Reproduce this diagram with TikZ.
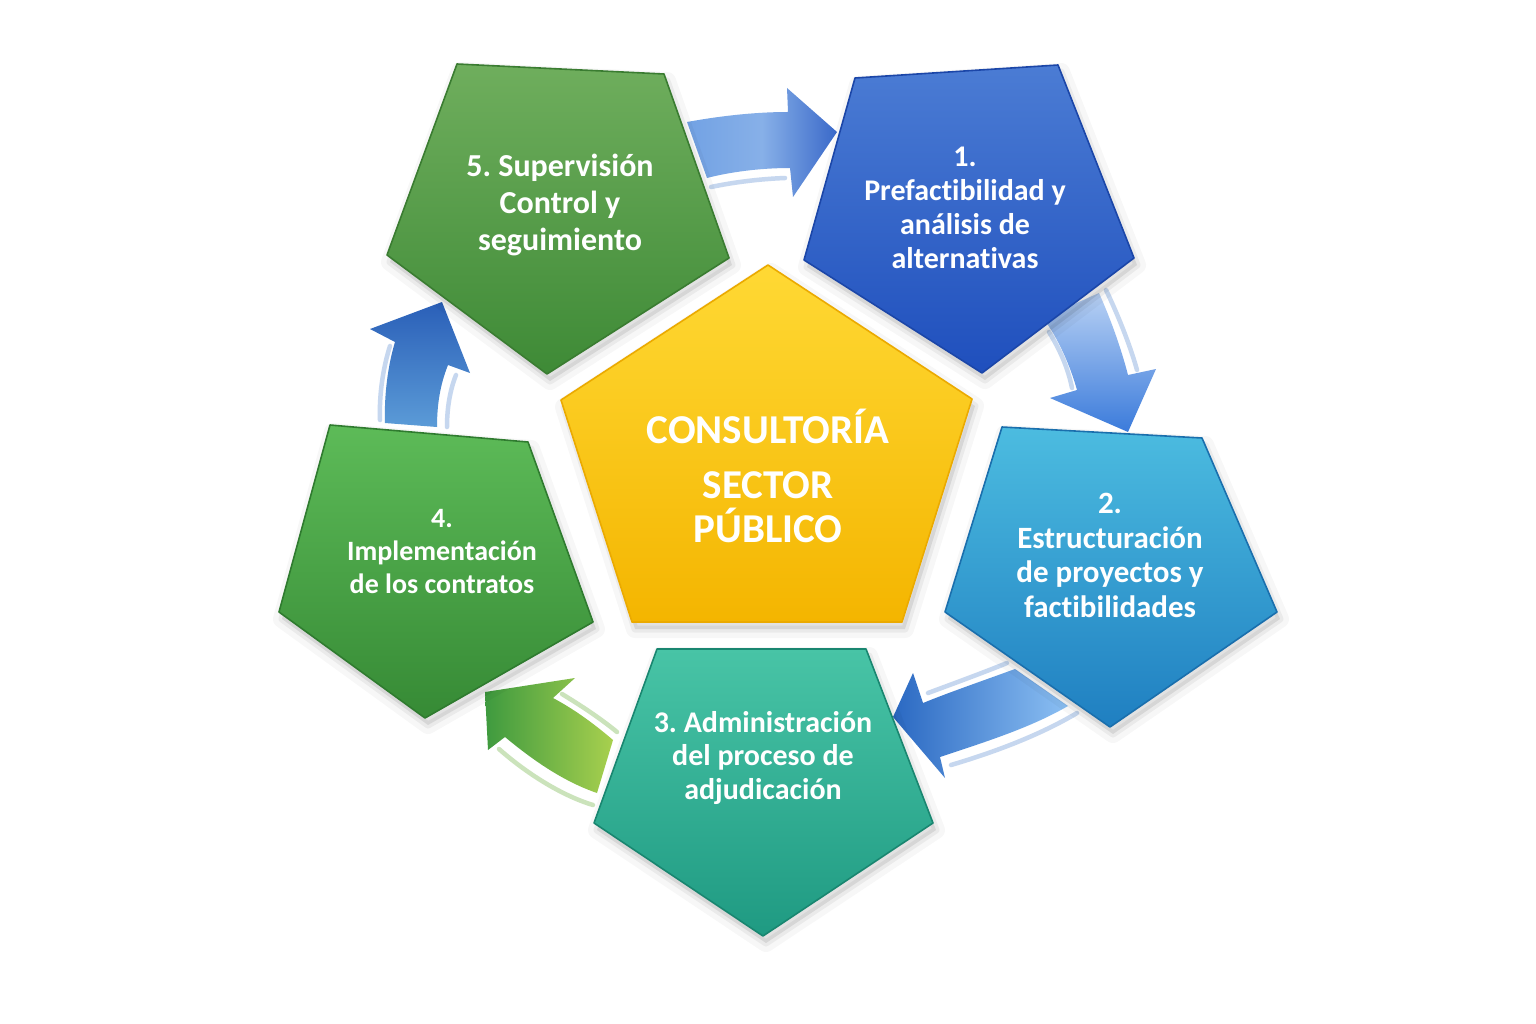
\documentclass[tikz,border=0pt]{standalone}
\usepackage{fontspec}
\setmainfont{Carlito}[Ligatures=NoCommon]
\frenchspacing
\definecolor{gA1}{HTML}{72A2E4}
\definecolor{gA2}{HTML}{3A69C9}
\definecolor{gB1}{HTML}{B8D1F4}
\definecolor{gB2}{HTML}{3B7BDB}
\definecolor{gC1}{HTML}{8CC0F3}
\definecolor{gC2}{HTML}{2A68C2}
\definecolor{gD1}{HTML}{3E9A3F}
\definecolor{gD2}{HTML}{A8D04E}
\definecolor{gE1}{HTML}{2A5FB8}
\definecolor{gE2}{HTML}{5B9BD7}
\definecolor{thinB}{HTML}{C6D7EF}
\definecolor{thinG}{HTML}{CBE3BB}
\definecolor{p5t}{HTML}{6FAE5D}
\definecolor{p5b}{HTML}{3E8A36}
\definecolor{p5e}{HTML}{3A7C31}
\definecolor{p1t}{HTML}{4B7CD4}
\definecolor{p1b}{HTML}{1F4FBD}
\definecolor{p1e}{HTML}{1B46A8}
\definecolor{p2t}{HTML}{4CBCE0}
\definecolor{p2b}{HTML}{1F7FC1}
\definecolor{p2e}{HTML}{1A6FAD}
\definecolor{p3t}{HTML}{48C4A6}
\definecolor{p3b}{HTML}{1F9A82}
\definecolor{p3e}{HTML}{198670}
\definecolor{p4t}{HTML}{5DBB58}
\definecolor{p4b}{HTML}{368A35}
\definecolor{p4e}{HTML}{2F7B2F}
\definecolor{p0t}{HTML}{FFD934}
\definecolor{p0b}{HTML}{F4B500}
\definecolor{p0e}{HTML}{EBAA00}
\newcommand\pentashape[8]{%
  \begin{scope}[shift={(3,7)}]
    \fill[black,opacity=0.03,draw=black,line width=18pt,line join=round] #1--#2--#3--#4--#5--cycle;
    \fill[black,opacity=0.05,draw=black,line width=7pt,line join=round] #1--#2--#3--#4--#5--cycle;
  \end{scope}
  \shade[top color=#6,bottom color=#7,draw=#8,line width=1.6pt,line join=round] #1--#2--#3--#4--#5--cycle;
}
\begin{document}
\begin{tikzpicture}[x=1pt,y=-1pt,
  lbl/.style={text=white,align=center,inner sep=0pt},
  thinline/.style={line width=4.5pt,line cap=round}]
\useasboundingbox (0,0) rectangle (1536,1024);
\fill[white] (0,0) rectangle (1536,1024);

% ---------- arrows ----------
% 5 -> 1
\draw[thinline,thinB] (711,187) .. controls (735,182) and (760,179) .. (785,178);
\shade[left color=gA1,right color=gA2,middle color=gA1!85!white]
  (687,122) .. controls (720,116) and (755,112) .. (788,112) -- (787,88) -- (837,132)
  -- (793,197) -- (790,168) .. controls (760,168) and (730,172) .. (707,178) -- cycle;
% 1 -> 2
\draw[thinline,thinB] (1049,332) .. controls (1060,350) and (1068,368) .. (1072,388);
\draw[thinline,thinB] (1106,290) .. controls (1118,315) and (1130,345) .. (1137,370);
\shade[top color=gB1,bottom color=gB2]
  (1043,318) -- (1099,293) .. controls (1111,320) and (1121,348) .. (1128,375)
  -- (1156,369) -- (1128,432) -- (1050,398) -- (1077,390)
  .. controls (1070,365) and (1058,338) .. (1043,318) -- cycle;
% 2 -> 3
\draw[thinline,thinB] (928,693) .. controls (955,683) and (985,672) .. (1007,663);
\draw[thinline,thinB] (951,765) .. controls (995,752) and (1040,735) .. (1077,713);
\shade[left color=gC2,right color=gC1]
  (1015,669) .. controls (985,680) and (950,692) .. (923,703) -- (913,673) -- (893,717)
  -- (945,778) -- (940,757) .. controls (985,742) and (1030,728) .. (1068,706) -- cycle;
% 3 -> 4
\draw[thinline,thinG] (562,694) .. controls (580,705) and (600,718) .. (617,732);
\draw[thinline,thinG] (499,749) .. controls (525,772) and (560,795) .. (593,805);
\shade[left color=gD1,right color=gD2]
  (613,740) .. controls (592,722) and (572,708) .. (553,698) -- (575,678) -- (485,692)
  -- (488,750) -- (505,737) .. controls (535,762) and (565,782) .. (597,793) -- cycle;
% 4 -> 5
\draw[thinline,thinB] (380,420) .. controls (379,395) and (383,368) .. (390,346);
\draw[thinline,thinB] (447,427) .. controls (447,408) and (450,390) .. (456,375);
\shade[top color=gE1,bottom color=gE2]
  (385,423) .. controls (384,395) and (388,365) .. (395,342) -- (370,329) -- (442,302)
  -- (470,373) -- (448,365) .. controls (440,385) and (437,405) .. (437,427) -- cycle;

% ---------- pentagons ----------
\pentashape{(457,64)}{(664,74)}{(729,258)}{(547,374)}{(387,255)}{p5t}{p5b}{p5e}
\pentashape{(855,78)}{(1058,65)}{(1134,258)}{(982,373)}{(804,260)}{p1t}{p1b}{p1e}
\pentashape{(1002,427)}{(1202,438)}{(1277,612)}{(1110,727)}{(945,612)}{p2t}{p2b}{p2e}
\pentashape{(657,649)}{(866,649)}{(933,823)}{(763,936)}{(594,823)}{p3t}{p3b}{p3e}
\pentashape{(330,425)}{(528,442)}{(593,622)}{(425,718)}{(279,612)}{p4t}{p4b}{p4e}
\pentashape{(768,265)}{(972,399)}{(902,622)}{(632,622)}{(561,400)}{p0t}{p0b}{p0e}

% ---------- labels ----------
\node[lbl,font=\fontsize{32}{37}\selectfont\bfseries] (t5) at (560,204.5)
  {5. Supervisión\\Control y\\seguimiento};
\node[lbl,font=\fontsize{30}{34}\selectfont\bfseries] (t1) at (965,207.5)
  {1.\\Prefactibilidad y\\análisis de\\alternativas};
\node[lbl,font=\fontsize{31}{34.7}\selectfont\bfseries] (t2) at (1110,555.5)
  {2.\\Estructuración\\de proyectos y\\factibilidades};
\node[lbl,font=\fontsize{30}{33.5}\selectfont\bfseries] (t3) at (763,758)
  {3. Administración\\del proceso de\\adjudicación};
\node[lbl,font=\fontsize{28}{33}\selectfont\bfseries] (t4) at (442,551.5)
  {4.\\Implementación\\de los contratos};
\node[lbl,font=\fontsize{41}{44}\selectfont\bfseries] (t0) at (768,476)
  {CONSULTORÍA\\[11pt]SECTOR\\PÚBLICO};
\end{tikzpicture}
\end{document}
